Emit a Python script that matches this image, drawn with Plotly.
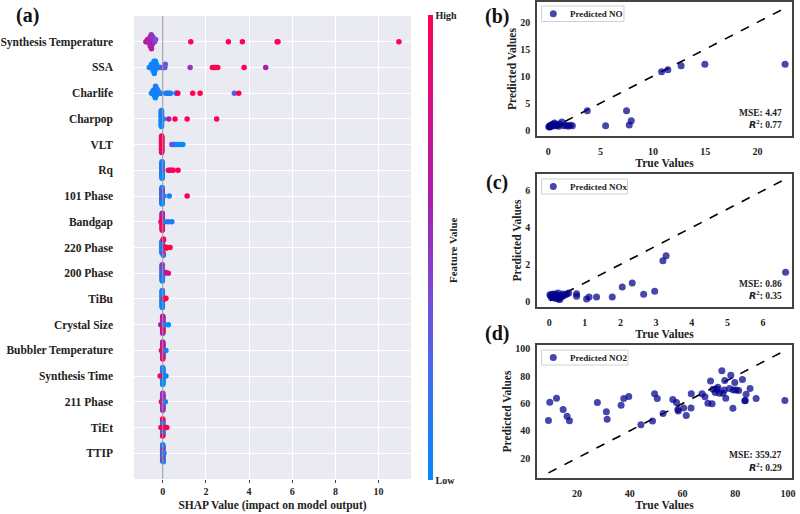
import numpy as np
import plotly.graph_objects as go

# ---------------- DATA ----------------
features = ["Synthesis Temperature", "SSA", "Charlife", "Charpop", "VLT", "Rq",
            "101 Phase", "Bandgap", "220 Phase", "200 Phase", "TiBu", "Crystal Size",
            "Bubbler Temperature", "Synthesis Time", "211 Phase", "TiEt", "TTIP"]

shap_synth_temp = [-0.78, -0.74, -0.70, -0.66, -0.64, -0.62, -0.60, -0.59, -0.58, -0.57, -0.56, -0.56,
                   -0.55, -0.55, -0.54, -0.53, -0.52, -0.51, -0.50, -0.48, -0.46, -0.42, -0.38, -0.33,
                   1.30, 3.04, 3.69, 5.30, 5.34, 10.94]
fv_synth_temp = [0.9, 0.8, 0.7, 0.6, 0.7, 0.5, 0.6, 0.7, 0.5, 0.6, 0.7, 0.6,
                 0.5, 0.8, 0.6, 0.5, 0.7, 0.6, 0.5, 0.6, 0.5, 0.6, 0.5, 0.4,
                 1.0, 1.0, 1.0, 1.0, 1.0, 1.0]
shap_ssa = [-0.62, -0.56, -0.52, -0.49, -0.47, -0.45, -0.43, -0.42, -0.41, -0.40, -0.39, -0.38,
            -0.37, -0.36, -0.34, -0.32, -0.29, -0.25, -0.20, -0.14, -0.08, 0.02, 0.06, 0.10, 0.12,
            1.27, 2.30, 2.38, 2.45, 2.55, 3.77, 4.77]
fv_ssa = [0.0, 0.1, 0.0, 0.1, 0.0, 0.1, 0.0, 0.2, 0.0, 0.1, 0.0, 0.1,
          0.0, 0.1, 0.0, 0.1, 0.0, 0.1, 0.1, 0.1, 0.1, 0.5, 0.2, 0.4, 0.3,
          0.5, 1.0, 1.0, 1.0, 1.0, 1.0, 0.6]
shap_charlife = [-0.52, -0.48, -0.45, -0.43, -0.41, -0.39, -0.38, -0.37, -0.36, -0.35, -0.34, -0.33,
                 -0.32, -0.31, -0.30, -0.28, -0.26, -0.22, -0.16, -0.08,
                 0.14, 0.22, 0.28, 0.36, 0.62, 0.66, 0.70, 1.39, 1.73, 3.32, 3.52]
fv_charlife = [0.0, 0.1, 0.0, 0.1, 0.0, 0.1, 0.0, 0.1, 0.0, 0.1, 0.0, 0.1,
               0.0, 0.1, 0.0, 0.1, 0.0, 0.1, 0.1, 0.1,
               0.1, 0.1, 0.1, 0.1, 0.2, 0.0, 1.0, 1.0, 1.0, 0.3, 1.0]
shap_charpop = [-0.06] * 22 + [0.03, 0.28, 0.57, 1.13, 2.50]
fv_charpop = [0.0, 0.1, 0.0, 0.1, 0.0, 0.1, 0.0, 0.1, 0.0, 0.1, 0.0,
              0.1, 0.0, 0.1, 0.0, 0.1, 0.0, 0.1, 0.0, 0.1, 0.0, 0.1,
              0.1, 0.6, 1.0, 1.0, 1.0]
shap_vlt = [-0.05] * 24 + [0.42, 0.52, 0.62, 0.78, 0.93]
fv_vlt = [1.0, 0.9, 1.0, 1.0, 0.9, 1.0, 1.0, 0.9, 1.0, 1.0, 0.9, 1.0,
          1.0, 0.9, 1.0, 1.0, 0.9, 1.0, 1.0, 0.9, 1.0, 1.0, 0.9, 1.0,
          0.3, 0.4, 0.1, 0.0, 0.0]
shap_rq = [-0.03] * 24 + [0.26, 0.34, 0.40, 0.49, 0.71]
fv_rq = [0.0, 0.1, 0.0, 0.4, 0.0, 0.1, 0.0, 0.1, 0.5, 0.1, 0.0, 0.1,
         0.0, 0.1, 0.0, 0.4, 0.0, 0.1, 0.0, 0.1, 0.0, 0.1, 0.0, 0.1,
         1.0, 0.9, 0.8, 1.0, 1.0]
shap_101 = [-0.03] * 24 + [0.05, 0.30, 1.13]
fv_101 = [0.0, 0.5, 1.0, 0.1, 0.0, 0.6, 0.0, 0.1, 0.9, 0.1, 0.0, 0.5,
          0.0, 0.1, 0.8, 0.1, 0.0, 0.5, 0.0, 0.1, 0.0, 0.6, 0.0, 0.1,
          0.2, 0.1, 1.0]
shap_bandgap = [-0.02] * 23 + [-0.08, 0.10, 0.26, 0.42]
fv_bandgap = [1.0, 0.7, 1.0, 0.6, 0.9, 0.7, 1.0, 0.5, 0.9, 0.7, 1.0, 0.6,
              1.0, 0.7, 0.9, 0.6, 1.0, 0.7, 0.5, 0.8, 1.0, 0.6, 0.9,
              1.0, 0.2, 0.1, 0.1]
shap_220 = [-0.03] * 16 + [0.03, 0.03, 0.03, 0.03, 0.03, 0.03, 0.09, 0.09, 0.15, 0.22, 0.34]
fv_220 = [0.0, 0.1, 0.0, 0.1, 0.0, 0.1, 0.0, 0.1, 0.0, 0.1, 0.0, 0.1, 0.0, 0.1, 0.0, 0.1,
          1.0, 0.1, 1.0, 0.9, 0.2, 1.0, 1.0, 0.9, 1.0, 1.0, 1.0]
shap_200 = [-0.02] * 22 + [0.05, 0.09, 0.15, 0.26]
fv_200 = [0.0, 0.1, 0.5, 0.1, 0.0, 0.6, 0.0, 0.1, 0.5, 0.1, 0.0, 0.7,
          0.0, 0.1, 0.5, 0.1, 0.0, 0.6, 0.0, 0.1, 0.0, 0.5,
          0.2, 0.1, 0.7, 0.8]
shap_tibu = [-0.02] * 23 + [0.05, 0.10, 0.15]
fv_tibu = [0.0, 0.1, 0.0, 0.1, 0.0, 0.1, 0.0, 0.1, 0.0, 0.1, 0.0, 0.1,
           0.0, 0.1, 0.0, 0.1, 0.0, 0.1, 0.0, 0.1, 0.0, 0.1, 0.0,
           1.0, 1.0, 1.0]
shap_crystal = [0.0] * 23 + [-0.09, 0.10, 0.26]
fv_crystal = [1.0, 0.6, 0.9, 0.5, 1.0, 0.7, 0.6, 0.5, 1.0, 0.6, 0.9, 0.5,
              1.0, 0.7, 0.6, 0.5, 1.0, 0.6, 0.9, 0.5, 1.0, 0.7, 0.6,
              0.6, 0.2, 0.0]
shap_bubbler = [0.0] * 23 + [-0.06, 0.08, 0.15]
fv_bubbler = [0.6, 1.0, 0.5, 0.7, 0.6, 0.9, 0.5, 0.6, 1.0, 0.5, 0.7, 0.6,
              0.9, 0.5, 0.6, 1.0, 0.5, 0.7, 0.6, 0.9, 0.5, 0.6, 1.0,
              1.0, 0.4, 0.1]
shap_synth_time = [0.0] * 23 + [-0.12, 0.08, 0.15]
fv_synth_time = [0.0, 0.1, 0.0, 0.1, 0.0, 0.1, 0.0, 0.1, 0.0, 0.1, 0.0, 0.1,
                 0.0, 0.1, 0.0, 0.1, 0.0, 0.1, 0.0, 0.1, 0.0, 0.1, 0.0,
                 1.0, 0.1, 0.0]
shap_211 = [0.0] * 23 + [-0.06, 0.06, 0.12]
fv_211 = [0.5, 0.6, 0.5, 0.5, 0.6, 0.5, 0.4, 0.6, 0.5, 0.5, 0.6, 0.5,
          0.4, 0.6, 0.5, 0.5, 0.6, 0.5, 0.4, 0.6, 0.5, 0.5, 0.6,
          1.0, 0.3, 0.1]
shap_tiet = [0.0] * 23 + [-0.08, 0.10, 0.19]
fv_tiet = [0.0, 0.1, 0.0, 0.1, 0.0, 0.1, 0.0, 0.1, 1.0, 0.1, 0.0, 0.1,
           0.0, 0.1, 0.0, 0.1, 1.0, 0.1, 0.0, 0.1, 0.0, 1.0, 1.0,
           1.0, 1.0, 1.0]
shap_ttip = [0.0] * 24 + [0.06, 0.03]
fv_ttip = [0.0, 1.0, 0.1, 0.0, 1.0, 0.1, 0.0, 1.0, 0.1, 0.0, 1.0, 0.1,
           0.0, 1.0, 0.1, 0.0, 1.0, 0.1, 0.0, 1.0, 0.1, 0.0, 1.0, 0.1,
           0.1, 0.0]

shap_values = [shap_synth_temp, shap_ssa, shap_charlife, shap_charpop, shap_vlt, shap_rq,
               shap_101, shap_bandgap, shap_220, shap_200, shap_tibu, shap_crystal,
               shap_bubbler, shap_synth_time, shap_211, shap_tiet, shap_ttip]
feature_values = [fv_synth_temp, fv_ssa, fv_charlife, fv_charpop, fv_vlt, fv_rq,
                  fv_101, fv_bandgap, fv_220, fv_200, fv_tibu, fv_crystal,
                  fv_bubbler, fv_synth_time, fv_211, fv_tiet, fv_ttip]

# Panel (b) NO
no_true = [0.05, 0.10, 0.15, 0.20, 0.25, 0.30, 0.35, 0.40, 0.50, 0.55, 0.60, 0.70, 0.80, 0.90,
           1.00, 1.10, 1.30, 1.50, 1.70, 1.90, 2.10, 2.30,
           3.73, 5.48, 7.48, 7.74, 7.93, 10.83, 11.43, 12.70, 14.97, 22.64]
no_pred = [0.60, 0.70, 0.55, 0.80, 0.90, 0.70, 1.00, 0.80, 1.10, 0.90, 1.30, 0.80, 1.00, 0.90,
           0.70, 1.10, 1.50, 0.80, 0.90, 0.70, 0.90, 0.80,
           3.59, 0.80, 3.59, 0.93, 1.73, 10.84, 11.20, 11.95, 12.20, 12.20]
no_mse, no_r2 = "4.47", "0.77"

# Panel (c) NOx
nox_true = [0.02, 0.05, 0.08, 0.10, 0.12, 0.15, 0.18, 0.20, 0.22, 0.25, 0.28, 0.30, 0.32, 0.35,
            0.38, 0.40, 0.45, 0.50, 0.55, 0.06, 0.14, 0.26,
            0.77, 0.77, 1.05, 1.12, 1.33, 1.77, 2.05, 2.33, 2.65, 2.96, 3.19, 3.28, 6.63]
nox_pred = [0.35, 0.30, 0.38, 0.20, 0.32, 0.25, 0.15, 0.35, 0.28, 0.45, 0.20, 0.10, 0.30, 0.25,
            0.40, 0.30, 0.35, 0.40, 0.45, 0.22, 0.40, 0.12,
            0.41, 0.27, 0.13, 0.23, 0.23, 0.23, 0.77, 0.99, 0.38, 0.54, 2.20, 2.47, 1.57]
nox_mse, nox_r2 = "0.86", "0.35"

# Panel (d) NO2
no2_true = [9.15, 9.65, 12.2, 14.7, 16.2, 17.1, 27.7, 31.1, 31.4, 36.7, 37.7, 39.6, 44.2, 48.6,
            49.4, 50.4, 52.6, 56.3, 57.7, 58.2, 58.4, 60.4, 61.4, 63.2, 63.3, 67.4, 68.5, 69.6,
            70.6, 71.2, 71.5, 72.4, 73.1, 73.4, 74.0, 74.9, 75.3, 75.8, 76.0, 76.4, 77.8, 78.3,
            79.1, 79.3, 79.8, 80.3, 81.3, 82.7, 83.8, 83.6, 84.1, 85.6, 87.9, 98.8]
no2_pred = [47.6, 61.0, 63.9, 55.6, 50.7, 47.3, 60.7, 53.9, 48.5, 58.8, 63.7, 65.1, 44.4, 47.1,
            67.1, 63.7, 52.7, 62.9, 60.7, 55.6, 54.6, 56.8, 51.2, 56.8, 67.1, 67.1, 64.9, 60.2,
            76.6, 59.8, 70.5, 68.0, 70.5, 71.9, 67.6, 84.1, 67.6, 70.0, 76.8, 63.9, 71.0, 80.7,
            56.6, 70.0, 75.4, 70.0, 69.5, 77.6, 62.2, 62.0, 66.8, 71.0, 63.7, 62.2]
no2_mse, no2_r2 = "359.27", "0.29"

# ---------------- STYLE / LAYOUT ----------------
W, H = 800, 514
SERIF = "Liberation Serif, Times New Roman, serif"
shap_scale = [[0.0, "#008afb"], [0.2, "#3a6ff0"], [0.4, "#7a4bd6"], [0.6, "#a81fae"],
              [0.8, "#d60e84"], [1.0, "#ff0052"]]
MARK = "rgba(0,0,139,0.72)"


def px_x(p):
    return p / W


def px_y(p):
    return 1 - p / H


def swarm(vals, bw=0.06, row_h=0.4):
    vals = np.asarray(vals, dtype=float)
    q = np.round(vals / bw)
    order = np.argsort(q, kind="stable")
    ys = np.zeros(len(vals))
    layer, last = 0, None
    for i in order:
        if q[i] != last:
            layer = 0
        ys[i] = np.ceil(layer / 2) * ((layer % 2) * 2 - 1)
        layer += 1
        last = q[i]
    ys *= 0.9 * (row_h / np.max(ys + 1))
    return ys


fig = go.Figure()
nf = len(features)

# SHAP beeswarm
for i, (sv, fv) in enumerate(zip(shap_values, feature_values)):
    row = nf - 1 - i
    yoff = swarm(sv)
    fig.add_trace(go.Scatter(
        x=sv, y=row + yoff, mode="markers", xaxis="x", yaxis="y", showlegend=False,
        marker=dict(size=5.5, color=fv, coloraxis="coloraxis", line=dict(width=0)),
        hoverinfo="skip"))

# zero line
fig.add_trace(go.Scatter(x=[0, 0], y=[-1, nf], mode="lines", xaxis="x", yaxis="y",
                         line=dict(color="#999999", width=1), showlegend=False, hoverinfo="skip"))


def add_panel(k, tx, ty, name):
    xa, ya = f"x{k}", f"y{k}"
    lo, hi = min(tx), max(tx)
    fig.add_trace(go.Scatter(x=[lo, hi], y=[lo, hi], mode="lines", xaxis=xa, yaxis=ya,
                             line=dict(color="black", width=1.6, dash="dash"),
                             showlegend=False, hoverinfo="skip"))
    fig.add_trace(go.Scatter(x=tx, y=ty, mode="markers", xaxis=xa, yaxis=ya, name=name,
                             showlegend=False,
                             marker=dict(size=7, color=MARK, line=dict(width=0))))


add_panel(2, no_true, no_pred, "Predicted NO")
add_panel(3, nox_true, nox_pred, "Predicted NOx")
add_panel(4, no2_true, no2_pred, "Predicted NO2")

tick_font = dict(family=SERIF, size=10, color="#222", weight="bold")
title_font = dict(family=SERIF, size=11.5, color="#222", weight="bold")


def panel_axes(top, bottom, xr, yr, xt, yt):
    common = dict(showline=True, mirror=True, linecolor="#444", linewidth=1.5,
                  showgrid=False, zeroline=False, ticks="", tickfont=tick_font,
                  automargin=False)
    xa = dict(domain=[px_x(537), px_x(792)], range=xr, tickvals=xt, ticklabelstandoff=5,
              title=dict(text="True Values", font=title_font, standoff=0), **common)
    ya = dict(domain=[px_y(bottom), px_y(top)], range=yr, tickvals=yt, ticklabelstandoff=3,
              title=dict(text="Predicted Values", font=title_font, standoff=1), **common)
    return xa, ya


xa2, ya2 = panel_axes(2, 136, [-1.08, 23.3], [-1.11, 23.77], [0, 5, 10, 15, 20], [0, 5, 10, 15, 20])
xa3, ya3 = panel_axes(174, 307, [-0.34, 6.81], [-0.31, 6.9], [0, 1, 2, 3, 4, 5, 6], [0, 2, 4, 6])
xa4, ya4 = panel_axes(345, 478, [4.8, 101.5], [5.4, 102.9], [20, 40, 60, 80, 100], [20, 40, 60, 80, 100])
xa2["anchor"], ya2["anchor"] = "y2", "x2"
xa3["anchor"], ya3["anchor"] = "y3", "x3"
xa4["anchor"], ya4["anchor"] = "y4", "x4"

fig.update_layout(
    width=W, height=H, margin=dict(l=0, r=0, t=0, b=0, autoexpand=False),
    paper_bgcolor="white", plot_bgcolor="white", showlegend=False,
    xaxis=dict(domain=[px_x(134), px_x(411)], range=[-1.33, 11.5], anchor="y",
               tickvals=[0, 2, 4, 6, 8, 10], showgrid=True, gridcolor="white", gridwidth=1,
               zeroline=False, showline=False, ticks="outside", ticklen=3, tickcolor="#444",
               tickfont=tick_font, automargin=False,
               title=dict(text="SHAP Value (impact on model output)", font=title_font, standoff=4)),
    yaxis=dict(domain=[px_y(479), px_y(16)], range=[-1, nf], anchor="x",
               tickvals=list(range(nf)), ticktext=features[::-1], showgrid=True,
               gridcolor="white", gridwidth=1, zeroline=False, showline=False,
               ticklabelstandoff=20, automargin=False,
               tickfont=dict(family=SERIF, size=11.5, color="#222", weight="bold")),
    xaxis2=xa2, yaxis2=ya2, xaxis3=xa3, yaxis3=ya3, xaxis4=xa4, yaxis4=ya4,
    coloraxis=dict(colorscale=shap_scale, cmin=0, cmax=1,
                   colorbar=dict(x=px_x(428), xanchor="left", y=px_y(480), yanchor="bottom",
                                 len=(480 - 15) / H, lenmode="fraction", thickness=5,
                                 outlinewidth=0, tickvals=[0, 1], ticktext=["Low", "High"],
                                 ticks="", ticklabelposition="outside", xpad=0, ypad=0,
                                 tickfont=dict(family=SERIF, size=10, color="#222", weight="bold"))),
)

shapes = [dict(type="rect", xref="x domain", yref="y domain", x0=0, x1=1, y0=0, y1=1,
               fillcolor="#eaeaf2", line=dict(width=0), layer="below")]
ann = []

# legend boxes (one per scatter panel)
for name, (bx0, bx1, by0, by1) in [("Predicted NO", (541.5, 624, 6, 21.5)),
                                   ("Predicted NOx", (541.5, 627.5, 179, 194)),
                                   ("Predicted NO2", (541.5, 628, 350, 365))]:
    cy = (by0 + by1) / 2
    shapes.append(dict(type="rect", xref="paper", yref="paper", x0=px_x(bx0), x1=px_x(bx1),
                       y0=px_y(by1), y1=px_y(by0), fillcolor="white",
                       line=dict(color="#d0d0d0", width=1), layer="above"))
    shapes.append(dict(type="circle", xref="paper", yref="paper", x0=px_x(549.8), x1=px_x(556.8),
                       y0=px_y(cy + 3.5), y1=px_y(cy - 3.5), fillcolor=MARK,
                       line=dict(width=0), layer="above"))
    ann.append(dict(text=name, x=px_x(568), y=px_y(cy), xref="paper", yref="paper",
                    showarrow=False, xanchor="left", yanchor="middle",
                    font=dict(family=SERIF, size=9, color="#222", weight="bold")))

for txt, x, y in [("(a)", 27, 15), ("(b)", 497, 17), ("(c)", 497, 182), ("(d)", 497, 333)]:
    ann.append(dict(text=txt, x=px_x(x), y=px_y(y), xref="paper", yref="paper",
                    showarrow=False, xanchor="center", yanchor="middle",
                    font=dict(family=SERIF, size=20, color="#111", weight="bold")))
ann.append(dict(text="Feature Value", x=px_x(453), y=px_y(250), xref="paper", yref="paper",
                showarrow=False, textangle=-90, xanchor="center", yanchor="middle",
                font=dict(family=SERIF, size=11, color="#222", weight="bold")))
for mse, r2, y1, y2 in [(no_mse, no_r2, 113, 124), (nox_mse, nox_r2, 284, 295),
                        (no2_mse, no2_r2, 455, 467)]:
    ann.append(dict(text=f"MSE: {mse}", x=px_x(784), y=px_y(y1), xref="paper", yref="paper",
                    showarrow=False, xanchor="right", yanchor="middle",
                    font=dict(family=SERIF, size=9.5, color="#222", weight="bold")))
    ann.append(dict(text=f"<b><i style='font-family:DejaVu Sans'>R</i><sup>2</sup></b>: {r2}",
                    x=px_x(784), y=px_y(y2), xref="paper", yref="paper",
                    showarrow=False, xanchor="right", yanchor="middle",
                    font=dict(family=SERIF, size=9.5, color="#222", weight="bold")))
fig.update_layout(annotations=ann, shapes=shapes)

fig.write_html("out.html", config={"displayModeBar": False},
               post_script="document.body.style.margin='0';")
